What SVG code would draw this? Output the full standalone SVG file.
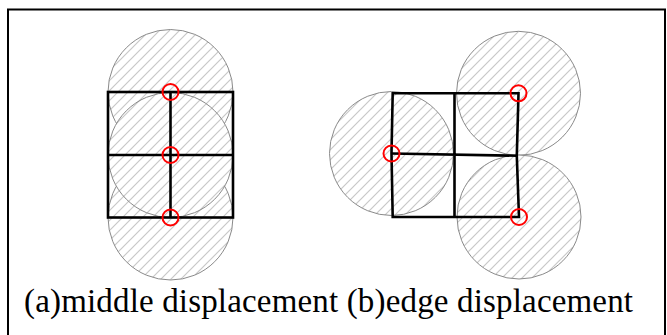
<svg xmlns="http://www.w3.org/2000/svg" width="667" height="335" viewBox="0 0 667 335">
<defs>
<pattern id="hatch" patternUnits="userSpaceOnUse" width="10" height="10">
<rect width="10" height="10" fill="#fff"/>
<path d="M0,10 L10,0 M-1,1 L1,-1 M9,11 L11,9" stroke="#c8c8c8" stroke-width="1.2" fill="none"/>
</pattern>
<style>
.disk{fill:url(#hatch);stroke:#8a8a8a;stroke-width:1}
.edge{fill:none;stroke:#000;stroke-width:2.6;stroke-linejoin:miter}
.pt{fill:none;stroke:#ff0000;stroke-width:2}
.cap{font-family:"Liberation Serif","Times New Roman",serif;font-size:33px;fill:#000}
</style>
</defs>
<rect width="667" height="335" fill="#fff"/>
<rect x="8" y="9.5" width="657" height="340" fill="none" stroke="#000" stroke-width="2"/>

<g id="fig-a">
<g id="a-disks">
<circle id="a-disk-top" class="disk" cx="170.5" cy="92" r="62.5"/>
<circle id="a-disk-bot" class="disk" cx="170.5" cy="217.5" r="62.5"/>
<circle id="a-disk-mid" class="disk" cx="170.5" cy="155" r="62.5"/>
</g>
<g id="a-edges">
<rect class="edge" x="108" y="92" width="125" height="125.5"/>
<path class="edge" d="M108,155 H233 M170.5,92 V217.5"/>
</g>
<g id="a-points">
<circle class="pt" cx="170.5" cy="92" r="8"/>
<circle class="pt" cx="170.5" cy="155" r="8"/>
<circle class="pt" cx="170.5" cy="217.5" r="8"/>
</g>
</g>

<g id="fig-b">
<g id="b-disks">
<circle id="b-disk-left" class="disk" cx="391.5" cy="153.5" r="62"/>
<circle id="b-disk-top" class="disk" cx="518.5" cy="93.3" r="62"/>
<circle id="b-disk-bot" class="disk" cx="519" cy="217" r="62"/>
</g>
<g id="b-edges">
<path class="edge" d="M392.7,93.3 H518.5 L516.8,155.7 L519,217 H392.7 L391.5,153.5 Z"/>
<path class="edge" d="M391.5,153.5 L516.8,155.7 M454.5,93.3 V217"/>
</g>
<g id="b-points">
<circle class="pt" cx="391.5" cy="153.5" r="8"/>
<circle class="pt" cx="518.5" cy="93.3" r="8"/>
<circle class="pt" cx="519" cy="217" r="8"/>
</g>
</g>

<text class="cap" x="24" y="312" textLength="609" lengthAdjust="spacing">(a)middle displacement (b)edge displacement</text>
</svg>
